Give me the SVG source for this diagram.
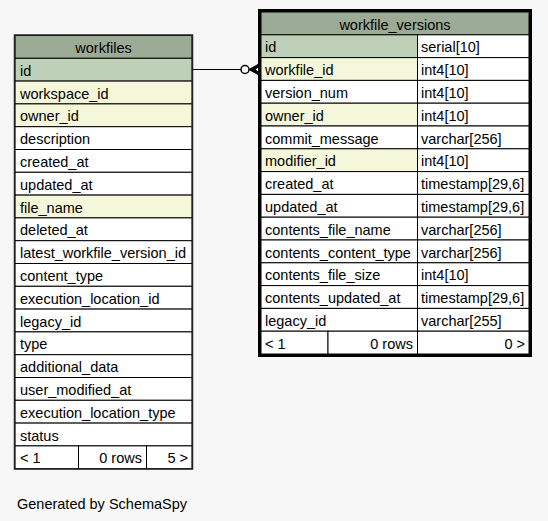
<svg xmlns="http://www.w3.org/2000/svg" width="548" height="521" viewBox="0 0 548 521">
<style>
text{font-family:"Liberation Sans",Arial,Helvetica,sans-serif;font-size:14.5px;fill:#000;transform:translate(0px,1px)}
.c{text-anchor:middle}
.r{text-anchor:end}
rect{stroke:#000;stroke-width:1}
.h{fill:#9bab96}
.pk{fill:#bed1b8}
.fk{fill:#f4f7da}
.w{fill:#ffffff}
.b1{fill:none;stroke:#222;stroke-width:1.5}
.b3{fill:none;stroke:#000;stroke-width:3}
</style>
<rect x="0" y="0" width="548" height="521" style="fill:#f7f7f7;stroke:none"/>
<g id="connectors">
<line x1="192.5" y1="69.5" x2="241" y2="69.5" stroke="#000" stroke-width="1.2"/>
<circle cx="245" cy="69.5" r="4" fill="#fff" stroke="#000" stroke-width="1.5"/>
<polygon points="249,69.5 258,64.5 258,67 255,69.5 258,72 258,74.5" fill="#000" stroke="#000" stroke-width="1"/>
</g>
<g id="workfiles">
<rect class="h" x="15" y="35.5" width="177" height="22.8"/>
<text class="c" x="103.5" y="52">workfiles</text>
<rect class="pk" x="15" y="58.3" width="177" height="22.8"/><text x="20" y="74.8">id</text>
<rect class="fk" x="15" y="81.1" width="177" height="22.8"/><text x="20" y="97.6">workspace_id</text>
<rect class="fk" x="15" y="103.9" width="177" height="22.8"/><text x="20" y="120.4">owner_id</text>
<rect class="w" x="15" y="126.7" width="177" height="22.8"/><text x="20" y="143.2">description</text>
<rect class="w" x="15" y="149.5" width="177" height="22.8"/><text x="20" y="166">created_at</text>
<rect class="w" x="15" y="172.3" width="177" height="22.8"/><text x="20" y="188.8">updated_at</text>
<rect class="fk" x="15" y="195.1" width="177" height="22.8"/><text x="20" y="211.6">file_name</text>
<rect class="w" x="15" y="217.9" width="177" height="22.8"/><text x="20" y="234.4">deleted_at</text>
<rect class="w" x="15" y="240.7" width="177" height="22.8"/><text x="20" y="257.2">latest_workfile_version_id</text>
<rect class="w" x="15" y="263.5" width="177" height="22.8"/><text x="20" y="280">content_type</text>
<rect class="w" x="15" y="286.3" width="177" height="22.8"/><text x="20" y="302.8">execution_location_id</text>
<rect class="w" x="15" y="309.1" width="177" height="22.8"/><text x="20" y="325.6">legacy_id</text>
<rect class="w" x="15" y="331.9" width="177" height="22.8"/><text x="20" y="348.4">type</text>
<rect class="w" x="15" y="354.7" width="177" height="22.8"/><text x="20" y="371.2">additional_data</text>
<rect class="w" x="15" y="377.5" width="177" height="22.8"/><text x="20" y="394">user_modified_at</text>
<rect class="w" x="15" y="400.3" width="177" height="22.8"/><text x="20" y="416.8">execution_location_type</text>
<rect class="w" x="15" y="423.1" width="177" height="22.8"/><text x="20" y="439.6">status</text>
<rect class="w" x="15" y="445.9" width="63.5" height="22.8"/><text x="20" y="462.4">&lt; 1</text>
<rect class="w" x="78.5" y="445.9" width="68" height="22.8"/><text class="r" x="142" y="462.4">0 rows</text>
<rect class="w" x="146.5" y="445.9" width="45.5" height="22.8"/><text class="r" x="188" y="462.4">5 &gt;</text>
<rect class="b1" x="14.5" y="35" width="178" height="434"/>
</g>
<g id="workfile_versions">
<rect class="h" x="261" y="12" width="268" height="22.8"/>
<text class="c" x="395" y="28.5">workfile_versions</text>
<rect class="pk" x="261" y="34.8" width="156.5" height="22.8"/><text x="265" y="51.3">id</text>
<rect class="w" x="417.5" y="34.8" width="111.5" height="22.8"/><text x="421" y="51.3">serial[10]</text>
<rect class="fk" x="261" y="57.6" width="156.5" height="22.8"/><text x="265" y="74.1">workfile_id</text>
<rect class="w" x="417.5" y="57.6" width="111.5" height="22.8"/><text x="421" y="74.1">int4[10]</text>
<rect class="w" x="261" y="80.4" width="156.5" height="22.8"/><text x="265" y="96.9">version_num</text>
<rect class="w" x="417.5" y="80.4" width="111.5" height="22.8"/><text x="421" y="96.9">int4[10]</text>
<rect class="fk" x="261" y="103.2" width="156.5" height="22.8"/><text x="265" y="119.7">owner_id</text>
<rect class="w" x="417.5" y="103.2" width="111.5" height="22.8"/><text x="421" y="119.7">int4[10]</text>
<rect class="w" x="261" y="126" width="156.5" height="22.8"/><text x="265" y="142.5">commit_message</text>
<rect class="w" x="417.5" y="126" width="111.5" height="22.8"/><text x="421" y="142.5">varchar[256]</text>
<rect class="fk" x="261" y="148.8" width="156.5" height="22.8"/><text x="265" y="165.3">modifier_id</text>
<rect class="w" x="417.5" y="148.8" width="111.5" height="22.8"/><text x="421" y="165.3">int4[10]</text>
<rect class="w" x="261" y="171.6" width="156.5" height="22.8"/><text x="265" y="188.1">created_at</text>
<rect class="w" x="417.5" y="171.6" width="111.5" height="22.8"/><text x="421" y="188.1">timestamp[29,6]</text>
<rect class="w" x="261" y="194.4" width="156.5" height="22.8"/><text x="265" y="210.9">updated_at</text>
<rect class="w" x="417.5" y="194.4" width="111.5" height="22.8"/><text x="421" y="210.9">timestamp[29,6]</text>
<rect class="w" x="261" y="217.2" width="156.5" height="22.8"/><text x="265" y="233.7">contents_file_name</text>
<rect class="w" x="417.5" y="217.2" width="111.5" height="22.8"/><text x="421" y="233.7">varchar[256]</text>
<rect class="w" x="261" y="240" width="156.5" height="22.8"/><text x="265" y="256.5">contents_content_type</text>
<rect class="w" x="417.5" y="240" width="111.5" height="22.8"/><text x="421" y="256.5">varchar[256]</text>
<rect class="w" x="261" y="262.8" width="156.5" height="22.8"/><text x="265" y="279.3">contents_file_size</text>
<rect class="w" x="417.5" y="262.8" width="111.5" height="22.8"/><text x="421" y="279.3">int4[10]</text>
<rect class="w" x="261" y="285.6" width="156.5" height="22.8"/><text x="265" y="302.1">contents_updated_at</text>
<rect class="w" x="417.5" y="285.6" width="111.5" height="22.8"/><text x="421" y="302.1">timestamp[29,6]</text>
<rect class="w" x="261" y="308.4" width="156.5" height="22.8"/><text x="265" y="324.9">legacy_id</text>
<rect class="w" x="417.5" y="308.4" width="111.5" height="22.8"/><text x="421" y="324.9">varchar[255]</text>
<rect class="w" x="261" y="331.2" width="67" height="22.8"/><text x="265" y="347.7">&lt; 1</text>
<rect class="w" x="328" y="331.2" width="89.5" height="22.8"/><text class="r" x="413" y="347.7">0 rows</text>
<rect class="w" x="417.5" y="331.2" width="111.5" height="22.8"/><text class="r" x="525" y="347.7">0 &gt;</text>
<rect class="b3" x="259.5" y="10.5" width="271" height="345"/>
</g>
<text x="17" y="508">Generated by SchemaSpy</text>
</svg>
